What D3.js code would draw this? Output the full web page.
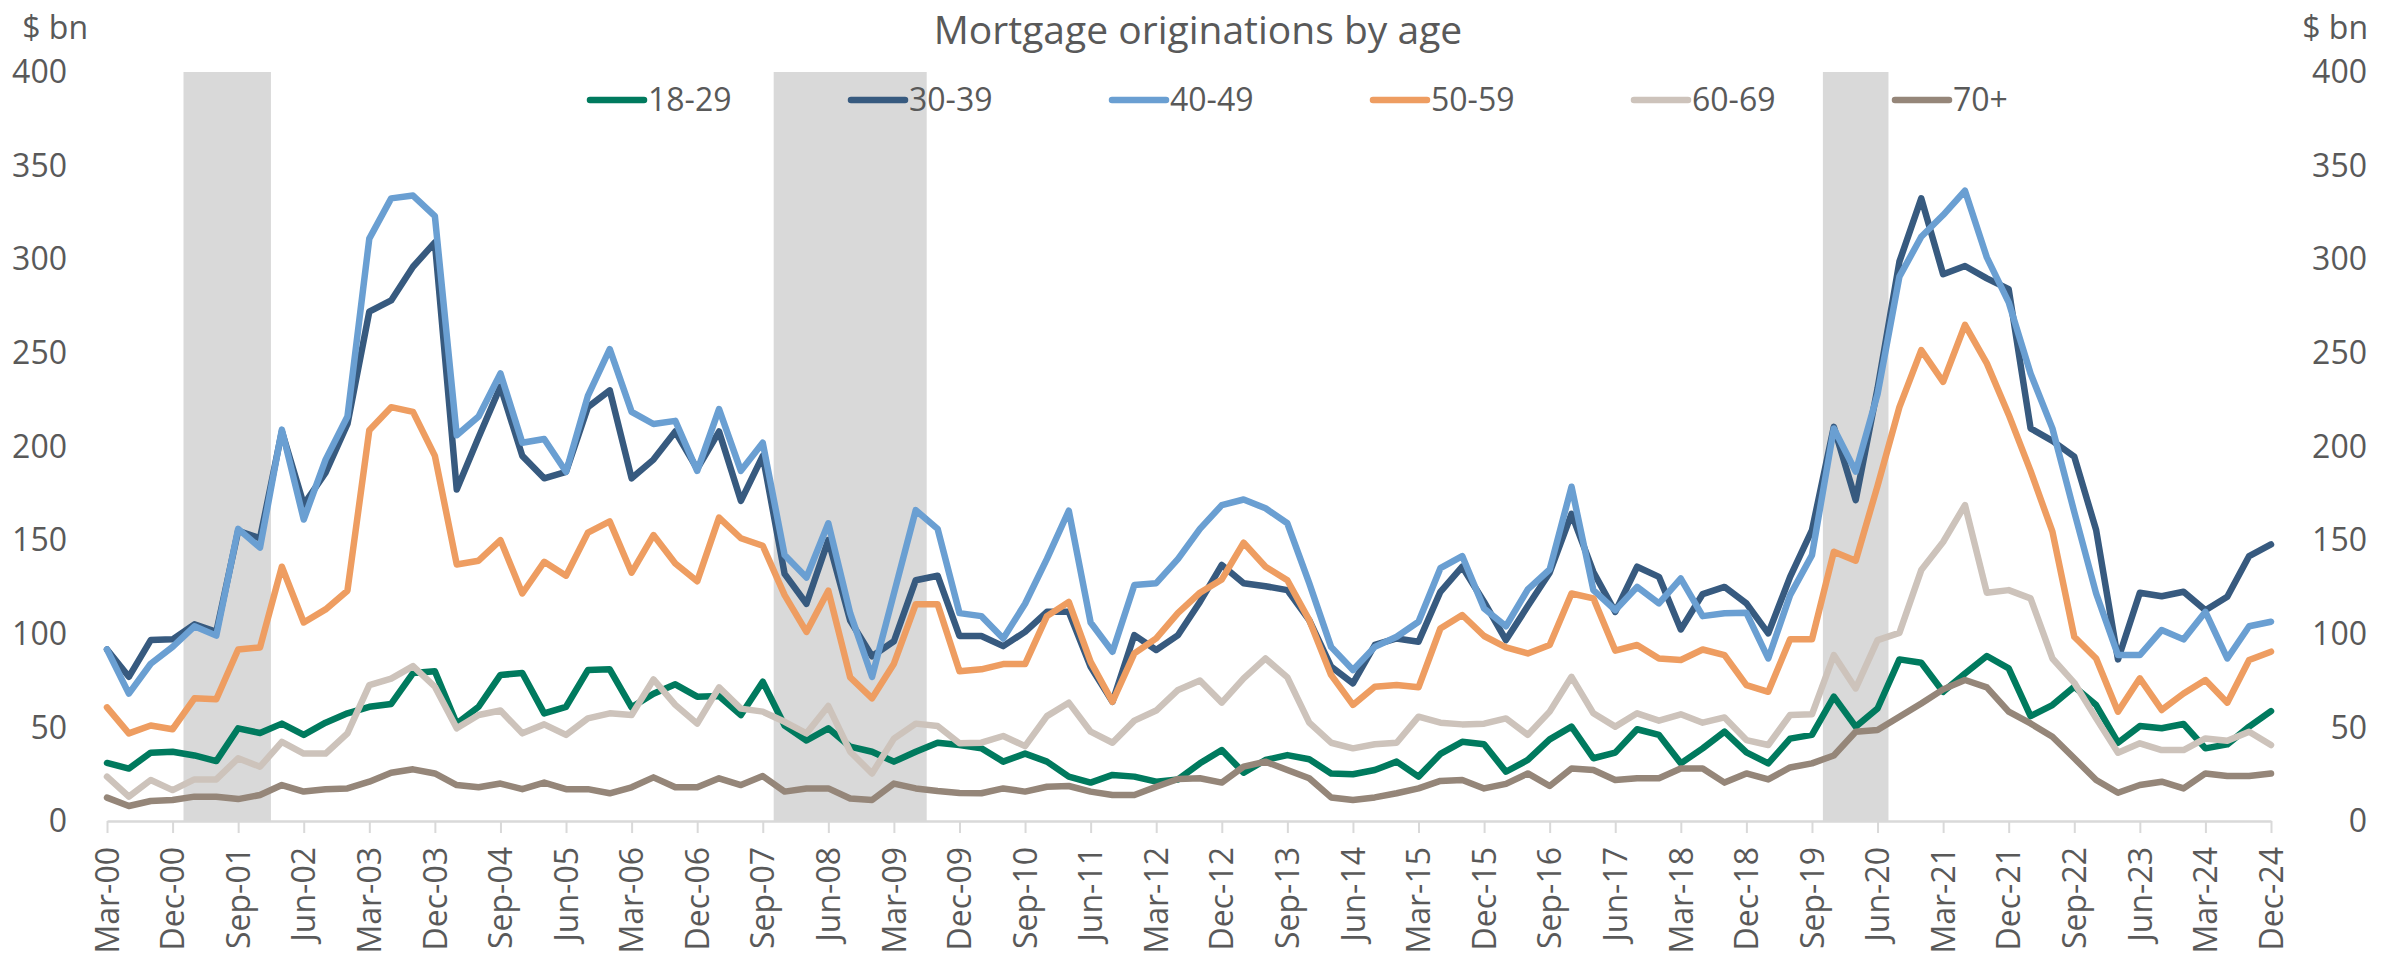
<!DOCTYPE html>
<html>
<head>
<meta charset="utf-8">
<script src="https://cdnjs.cloudflare.com/ajax/libs/d3/7.8.5/d3.min.js"></script>
<style>
  body { margin: 0; background: #fff; }
  text { font-family: "Open Sans", "Noto Sans", sans-serif; fill: #595959; }
</style>
</head>
<body>
<div id="chart"></div>
<script>
// quarterly, Mar-00 .. Dec-24 (100 quarters)
var tickLabels = ["Mar-00","Dec-00","Sep-01","Jun-02","Mar-03","Dec-03","Sep-04","Jun-05","Mar-06","Dec-06",
  "Sep-07","Jun-08","Mar-09","Dec-09","Sep-10","Jun-11","Mar-12","Dec-12","Sep-13","Jun-14","Mar-15","Dec-15",
  "Sep-16","Jun-17","Mar-18","Dec-18","Sep-19","Jun-20","Mar-21","Dec-21","Sep-22","Jun-23","Mar-24","Dec-24"];
var tickStep = 3;

var seriesNames = ["18-29","30-39","40-49","50-59","60-69","70+"];
var seriesColors = ["#007a5e","#375a7f","#6a9fd2","#ee9d61","#cdc3bb","#958679"];

var age18 = [31,28,36.5,37,35,32,49.5,47,52,46,52.5,57.5,61,62.5,79,80,52,61,78,79,
  57.5,61,80.6,81,60.7,68,73,66.4,66.7,56.6,74.4,51,43,49.5,39.7,37,31.7,37,41.8,40.6,
  38.8,31.7,36,31.7,23.7,20.5,24.6,23.7,21,22.2,30.8,37.9,25.8,32.6,35.2,33,25.4,25,27.2,31.7,
  23.7,35.8,42.3,41,26.3,32.6,43.6,50.4,33.5,36.5,49,46,30.8,38.8,47.7,36.7,30.8,44,46,66.4,
  50.4,60.1,86.3,84.5,69,78.8,88.1,81.5,56,61.9,71.7,61.9,41.8,50.7,49.5,51.8,38.8,40.9,50.4,58.7];
var age30 = [91.6,77,96.6,97,105,101,155,151,208,169,186,212,272,278,296,309,177,205,232,195,
  183,186.5,221,230,183,193,208,188,208,171,195,132,116,150,107,88,96,128.6,131,98.8,
  98.8,93.4,101,111.7,111.7,82.4,63.7,99.3,91.3,99.3,117,136.7,127,125.4,123.3,107.3,82.4,73.5,94,97.5,
  95.7,122.4,135.8,117,96.6,114.8,132.6,164,133,111.7,135.8,130.4,102.3,121.2,125,116.2,100.2,130.4,155.3,210.5,
  171.4,231,298.7,332.5,292,296.4,289.8,284,209.7,203,194.6,155.4,86.3,121.9,120,122.4,112.6,119.8,141.5,147.7];
var age40 = [91.6,68,84,93,104,99,156,146,209,161,193,216,311,332.5,334,323,206,216,239,202,
  204,186.5,227,252,218.5,212,213.7,187,220,187,202,142,130,159,111,77,121.5,166,156,111,
  109.4,97.5,116,140,165.7,106,90.4,126,127,140,156,168.7,171.7,167,159,127,93,80.6,93,98.4,
  106.4,135,141.5,113.5,104,123.7,134.3,178.5,123.3,112.6,125,116.2,129.5,109.4,110.9,111.2,86.8,120.6,142,209.6,
  186.6,228,290.7,312,323.6,336.6,301,277,239,209.7,165,121.5,88.6,88.6,102,97,111.7,86.8,104,106.4];
var age50 = [60.7,46.8,51,49,65.5,65,91.6,92.7,135.8,106,113,123,208.7,221,218.5,195,137,139,150,121.5,
  138.4,131,154,160,132.6,152.7,137.5,128,162,151,147,120.6,101,123,76.7,65.5,84,115.8,115.8,80,
  81,83.8,83.8,109.4,117,85,63.7,89.5,97.5,111.2,121.9,129,148.6,135.8,128.6,107.3,78,62,71.7,72.6,
  71.4,102.8,110,98.8,92.7,89.5,94,121.5,118.9,91,94,86.8,86,91.6,88.6,72.6,69,97,97,143.8,
  139,179,221,251.5,234.5,265,244.4,217,187,154.5,98.4,86.8,58.4,76.2,59.3,68.1,75.3,63.2,86,90.4];
var age60 = [23.7,13,21.9,16.5,22.2,22.2,33.5,29,42.3,36,36,46.8,72.6,76,82.7,71.7,49.5,56.6,59,46.8,
  51.6,46,54.8,57.5,56.6,75.6,62,52,71.4,60,58.4,53,46.8,61.4,37,25.4,44,52,50.7,41.5,
  41.8,45.4,40,56,63.2,47.7,41.8,53.6,59,70,75,63.2,76.2,86.8,76.7,52.5,41.8,38.8,41,41.8,
  55.7,52.5,51.6,52,54.8,46,58.4,77,57.5,50.4,57.5,53.6,57,52.5,55.3,43.2,40.6,56.6,57,88.6,
  70.8,96.6,100.5,134,149,168.7,121.9,123.3,118.9,86.8,73.8,54.8,36.5,41.5,37.9,37.9,44.1,42.9,47.7,40.6];
var age70 = [12.5,8,10.7,11.2,13,13,11.7,13.9,19.2,15.7,17,17.4,21,25.8,27.6,25.4,19.2,18,20,17,
  20.5,17,17,14.8,18,23.3,18,18,22.8,19.2,24,15.7,17.4,17.4,12,11.2,20,17.4,16,15,
  14.8,17.4,15.7,18.3,18.7,15.7,13.9,13.9,18.3,22.4,22.8,20.5,29,31.7,27.2,22.8,12.6,11.2,12.6,14.8,
  17.4,21.4,21.9,17.4,19.8,25.4,18.7,28,27.2,21.9,22.8,22.8,28,28,20.5,25.4,22.2,28.6,30.8,35,
  47.7,48.6,55.7,62.8,70.3,75.3,71.4,58.4,52.1,45,33.5,21.9,15.1,19.2,21,17.4,25.4,24,24,25.4];

// recession shading, quarter index ranges (inclusive)
var recessions = [[4,7],[31,37],[79,81]];

var yTicks = [0,50,100,150,200,250,300,350,400];

var Chart = function(view, W, H){
  const s = this;
  const
    LEFT = 107, RIGHT = 2271,
    TOP = 72, BOTTOM = 821,
    LINE_W = 6.5,
    FONT = 32,
    GREY = "#d9d9d9";
  var svg, x, y;
  var allSeries = [age18, age30, age40, age50, age60, age70];

  s.init = function(){
    svg = d3.select(view).append("svg").attr("width", W).attr("height", H);
    x = d3.scaleLinear().domain([0, age18.length - 1]).range([LEFT, RIGHT]);
    y = d3.scaleLinear().domain([0, 400]).range([BOTTOM, TOP]);
    s.drawShading();
    s.drawAxes();
    s.drawLines();
    s.drawLegend();
    s.drawTitle();
  }

  s.drawShading = function(){
    svg.selectAll(".rec").data(recessions).enter().append("rect")
      .attr("class", "rec")
      .attr("x", d => x(d[0] - 0.5))
      .attr("width", d => x(d[1] + 0.5) - x(d[0] - 0.5))
      .attr("y", y(400))
      .attr("height", y(0) - y(400))
      .style("fill", GREY);
  }

  s.drawAxes = function(){
    var xAxis = d3.axisBottom(x)
      .tickValues(tickLabels.map((t, i) => i * tickStep))
      .tickFormat((d, i) => tickLabels[i])
      .tickSize(12).tickSizeOuter(0);
    var gx = svg.append("g").attr("transform", "translate(0," + y(0) + ")").call(xAxis);
    gx.select(".domain").attr("stroke", GREY).attr("stroke-width", 2.5);
    gx.selectAll(".tick line").attr("stroke", GREY).attr("stroke-width", 2);
    gx.selectAll(".tick text")
      .attr("font-size", FONT)
      .attr("fill", "#595959")
      .attr("text-anchor", "end")
      .attr("transform", "rotate(-90)")
      .attr("x", -26).attr("y", 0).attr("dy", "0.35em");

    // left & right value labels
    [[67, "end"], [2367, "end"]].forEach(function(p){
      svg.append("g").selectAll("text").data(yTicks).enter().append("text")
        .attr("x", p[0]).attr("y", d => y(d)).attr("dy", "0.35em")
        .attr("text-anchor", p[1]).attr("font-size", FONT)
        .text(d => d);
    });
    svg.append("text").attr("x", 88).attr("y", 28).attr("dy", "0.35em")
      .attr("text-anchor", "end").attr("font-size", FONT).text("$ bn");
    svg.append("text").attr("x", 2368).attr("y", 28).attr("dy", "0.35em")
      .attr("text-anchor", "end").attr("font-size", FONT).text("$ bn");
  }

  s.drawLines = function(){
    var line = d3.line().x((d, i) => x(i)).y(d => y(d));
    svg.selectAll(".series").data(allSeries).enter().append("path")
      .attr("class", "series")
      .attr("d", line)
      .attr("fill", "none")
      .attr("stroke", (d, i) => seriesColors[i])
      .attr("stroke-width", LINE_W)
      .attr("stroke-linejoin", "round")
      .attr("stroke-linecap", "round");
  }

  s.drawLegend = function(){
    var lg = svg.selectAll(".legend").data(seriesNames).enter().append("g")
      .attr("class", "legend")
      .attr("transform", (d, i) => "translate(" + (590 + i * 261) + ",100)");
    lg.append("line")
      .attr("x1", 0).attr("x2", 54).attr("y1", 0).attr("y2", 0)
      .attr("stroke", (d, i) => seriesColors[i])
      .attr("stroke-width", LINE_W)
      .attr("stroke-linecap", "round");
    lg.append("text")
      .attr("x", 58).attr("dy", "0.35em")
      .attr("font-size", FONT)
      .text(d => d);
  }

  s.drawTitle = function(){
    svg.append("text")
      .attr("x", 1198).attr("y", 30).attr("dy", "0.35em")
      .attr("text-anchor", "middle")
      .attr("font-size", 39)
      .text("Mortgage originations by age");
  }
}

new Chart("#chart", 2399, 959).init();
</script>
</body>
</html>
